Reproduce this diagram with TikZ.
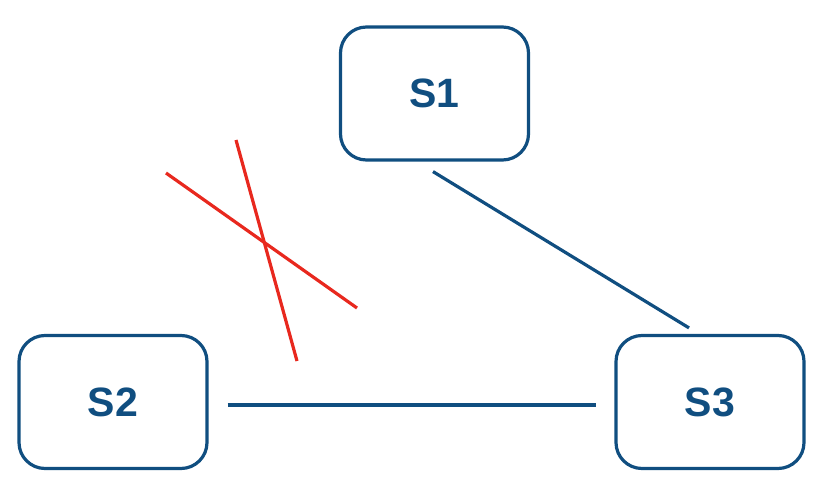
\documentclass[tikz,border=0pt]{standalone}
\usepackage{fontspec}
\setmainfont{Liberation Sans}
\usetikzlibrary{calc}
\definecolor{sblue}{RGB}{16,78,128}
\definecolor{sred}{RGB}{232,40,30}
\tikzset{
  sbox/.style={draw=sblue, line width=3.2pt, rounded corners=26pt, minimum width=188pt, minimum height=133pt, inner sep=0pt, text=sblue, font=\bfseries\fontsize{41}{41}\selectfont},
  link/.style={draw=sblue, line width=3.2pt},
  cross/.style={draw=sred, line width=3.2pt}
}
\begin{document}
\begin{tikzpicture}[x=1pt,y=-1pt]
\useasboundingbox (0,0) rectangle (838,492);
\node[sbox] (S1) at (434.5,93.5) {S1};
\node[sbox] (S2) at (113,402) {S2};
\node[sbox] (S3) at (710,402) {S3};
\coordinate (a1) at ($(S1.south)+(-1.5,10)$);
\coordinate (a2) at ($(S3.north)+(-21,-6)$);
\draw[link] (a1) -- (a2);
\coordinate (b1) at ($(S2.east)+(19,3)$);
\coordinate (b2) at ($(S3.west)+(-18,3)$);
\draw[link] (b1) -- (b2);
\coordinate (r1) at (166,173);
\coordinate (r2) at (357,308);
\coordinate (r3) at (236,140);
\coordinate (r4) at (297,361);
\draw[cross] (r1) -- (r2);
\draw[cross] (r3) -- (r4);
\end{tikzpicture}
\end{document}
